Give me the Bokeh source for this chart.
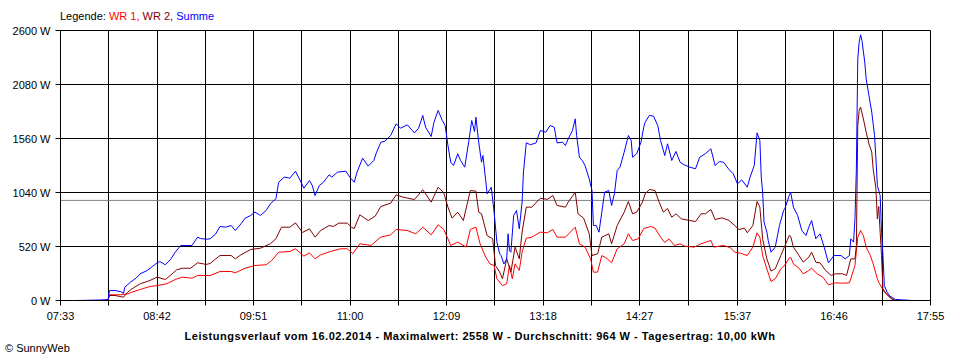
from bokeh.plotting import figure
from bokeh.models import Range1d, FixedTicker, Span, Div
from bokeh.layouts import column
from bokeh.embed import file_html
from bokeh.resources import INLINE

# ---------------- data ----------------
x_tick_labels = ["07:33", "08:42", "09:51", "11:00", "12:09", "13:18", "14:27", "15:37", "16:46", "17:55"]
y_ticks = [0, 520, 1040, 1560, 2080, 2600]
average_w = 964
series_names = ["WR 1", "WR 2", "Summe"]
series_colors = ["#FF0000", "#800000", "#0000FF"]
title_text = "Leistungsverlauf vom 16.02.2014 - Maximalwert: 2558 W - Durchschnitt: 964 W - Tagesertrag: 10,00 kWh"

sum_time = ["07:44","08:02","08:07","08:08","08:12","08:16","08:18","08:19","08:23","08:27","08:30","08:35","08:39","08:42","08:44","08:48","08:52","08:55","08:59","09:02","09:07","09:11","09:13","09:17","09:20","09:24","09:27","09:31","09:35","09:38","09:42","09:45","09:49","09:52","09:56","10:00","10:03","10:07","10:09","10:13","10:17","10:21","10:25","10:27","10:31","10:33","10:35","10:38","10:41","10:45","10:47","10:51","10:57","11:00","11:03","11:05","11:09","11:13","11:17","11:19","11:22","11:25","11:29","11:33","11:36","11:41","11:46","11:49","11:52","11:54","11:58","12:00","12:03","12:06","12:08","12:10","12:12","12:14","12:17","12:19","12:22","12:25","12:27","12:29","12:30","12:32","12:34","12:35","12:37","12:38","12:41","12:43","12:45","12:47","12:48","12:50","12:52","12:53","12:54","12:55","12:57","12:59","13:01","13:03","13:04","13:06","13:09","13:13","13:16","13:20","13:23","13:26","13:28","13:32","13:34","13:36","13:39","13:41","13:42","13:44","13:46","13:48","13:51","13:53","13:54","13:56","13:58","14:00","14:02","14:05","14:07","14:09","14:11","14:13","14:16","14:19","14:21","14:22","14:25","14:28","14:30","14:31","14:34","14:37","14:40","14:42","14:45","14:47","14:50","14:53","14:56","14:59","15:03","15:07","15:10","15:14","15:18","15:21","15:24","15:27","15:31","15:34","15:37","15:40","15:44","15:46","15:49","15:51","15:53","15:54","15:55","15:56","15:58","15:59","16:01","16:04","16:07","16:08","16:10","16:11","16:14","16:15","16:17","16:20","16:23","16:26","16:28","16:30","16:33","16:36","16:39","16:42","16:46","16:51","16:54","16:57","16:58","17:00","17:01","17:02","17:03","17:04","17:05","17:06","17:08","17:09","17:11","17:13","17:15","17:16","17:17","17:19","17:20","17:21","17:22","17:24","17:26","17:30","17:42"]
sum_w = [0,5,10,95,96,85,70,128,176,215,257,289,330,363,375,344,401,465,530,530,530,610,597,590,594,642,713,706,722,674,738,793,819,851,819,867,931,979,1139,1188,1178,1245,1139,1081,1156,1107,1011,1107,1139,1210,1188,1236,1245,1185,1139,1236,1371,1294,1348,1428,1524,1534,1589,1701,1659,1691,1614,1659,1782,1669,1579,1717,1830,1733,1685,1493,1332,1300,1413,1348,1284,1541,1733,1627,1765,1524,1332,1396,1156,1027,1091,851,562,449,433,353,400,642,480,465,819,867,690,947,1236,1518,1500,1518,1637,1621,1685,1669,1518,1524,1493,1557,1637,1749,1589,1380,1348,1300,1171,1059,722,722,658,851,1043,1059,915,1027,1252,1284,1428,1589,1541,1380,1413,1524,1669,1717,1782,1775,1685,1541,1396,1509,1348,1435,1332,1306,1284,1268,1380,1413,1461,1300,1338,1332,1261,1220,1123,1162,1091,1188,1300,1614,1541,1188,1043,754,658,578,465,514,722,770,867,889,1011,1043,899,819,674,626,706,770,594,642,514,363,433,433,401,433,594,562,786,1268,2327,2487,2558,2504,2295,2135,1974,1813,1589,1364,1107,1011,658,433,144,80,41,10,0]

wr2_time = ["07:44","08:07","08:08","08:12","08:18","08:21","08:24","08:30","08:37","08:42","08:48","08:52","08:56","09:00","09:06","09:11","09:15","09:17","09:20","09:24","09:27","09:35","09:38","09:42","09:49","09:56","10:03","10:07","10:11","10:17","10:21","10:26","10:31","10:35","10:39","10:45","10:48","10:52","10:58","11:01","11:03","11:07","11:13","11:18","11:22","11:29","11:33","11:38","11:46","11:52","11:58","12:03","12:07","12:10","12:13","12:17","12:21","12:26","12:30","12:32","12:34","12:38","12:42","12:44","12:47","12:49","12:52","12:55","12:58","13:01","13:03","13:06","13:10","13:16","13:21","13:25","13:28","13:34","13:36","13:41","13:43","13:47","13:51","13:53","13:57","14:00","14:05","14:07","14:11","14:16","14:19","14:22","14:25","14:29","14:31","14:34","14:38","14:41","14:44","14:47","14:50","14:53","14:57","15:03","15:07","15:11","15:14","15:18","15:21","15:26","15:31","15:35","15:38","15:42","15:44","15:48","15:51","15:53","15:55","15:58","16:01","16:04","16:08","16:11","16:14","16:15","16:17","16:21","16:24","16:28","16:30","16:33","16:36","16:40","16:44","16:47","16:52","16:55","16:58","17:01","17:02","17:03","17:04","17:05","17:07","17:09","17:11","17:13","17:14","17:16","17:17","17:18","17:19","17:20","17:21","17:24","17:27","17:30"]
wr2_w = [0,0,48,48,32,80,112,161,193,225,202,247,295,311,311,363,353,347,356,401,433,433,401,440,491,504,546,594,706,706,748,655,690,610,674,722,713,745,745,706,693,825,770,812,905,937,1017,995,972,1066,947,1091,1037,899,793,851,770,1059,1053,851,835,626,594,337,273,209,401,273,514,401,658,899,899,985,974,1011,915,899,947,1043,835,793,642,433,449,610,642,546,722,851,953,835,851,947,1027,1069,1059,947,851,886,802,835,786,770,760,835,835,876,780,796,770,722,684,697,652,722,953,899,594,401,283,305,433,530,626,619,514,433,369,417,465,369,363,289,241,257,257,241,401,401,530,1685,1830,1862,1749,1621,1509,1428,1268,1075,786,905,658,433,112,55,16,0]

wr1_time = ["07:44","08:07","08:08","08:16","08:21","08:24","08:30","08:37","08:42","08:49","08:55","09:00","09:07","09:11","09:20","09:27","09:35","09:38","09:45","09:52","10:00","10:04","10:09","10:17","10:21","10:27","10:31","10:35","10:39","10:46","10:53","10:58","11:02","11:07","11:15","11:22","11:29","11:33","11:41","11:47","11:52","11:58","12:03","12:07","12:10","12:12","12:17","12:23","12:26","12:30","12:33","12:37","12:40","12:43","12:45","12:47","12:49","12:52","12:54","12:56","12:58","13:01","13:03","13:06","13:10","13:16","13:21","13:25","13:28","13:34","13:41","13:44","13:48","13:52","13:54","13:57","14:00","14:04","14:07","14:11","14:16","14:19","14:22","14:26","14:30","14:35","14:38","14:42","14:45","14:48","14:52","14:56","14:59","15:06","15:11","15:18","15:20","15:27","15:32","15:35","15:39","15:44","15:48","15:51","15:53","15:55","15:58","16:01","16:04","16:08","16:11","16:14","16:15","16:17","16:21","16:24","16:28","16:30","16:34","16:38","16:42","16:47","16:52","16:57","16:58","17:01","17:03","17:05","17:07","17:09","17:12","17:14","17:17","17:18","17:20","17:22","17:25","17:29"]
wr1_w = [0,0,55,55,64,80,106,135,144,161,202,225,215,241,241,279,279,267,311,337,344,385,465,472,498,427,459,401,440,472,498,498,452,546,530,610,632,684,674,642,706,632,729,684,594,530,562,514,684,706,546,417,353,337,209,176,144,161,337,209,353,289,465,600,610,658,652,684,610,610,706,546,514,401,273,273,433,401,363,498,546,642,578,594,693,713,697,610,559,594,530,546,524,514,546,578,514,530,508,465,456,433,514,652,610,433,305,183,209,305,344,408,417,353,311,257,289,311,257,225,151,170,167,170,209,337,610,674,626,514,433,353,209,176,128,80,48,0]


def to_min(s):
    parts = [int(v) for v in s.split(":")]
    return parts[0] * 60 + parts[1] + (parts[2] / 60 if len(parts) > 2 else 0)


FONT = "Liberation Sans"

x_major = [to_min(s) for s in x_tick_labels]
x_minor = [(a + b) / 2 for a, b in zip(x_major[:-1], x_major[1:])]

p = figure(width=960, height=303, output_backend="svg", toolbar_location=None,
           x_range=Range1d(x_major[0], x_major[-1]), y_range=Range1d(y_ticks[0], y_ticks[-1]),
           min_border_left=60, min_border_right=30, min_border_top=8, min_border_bottom=25,
           background_fill_color="white", border_fill_color="white", margin=0)
p.outline_line_color = "black"
p.outline_line_width = 1

# axes
p.xaxis.ticker = FixedTicker(ticks=x_major, minor_ticks=x_minor)
p.xaxis.major_label_overrides = {m: s for m, s in zip(x_major, x_tick_labels)}
p.yaxis.ticker = FixedTicker(ticks=y_ticks)
p.yaxis.major_label_overrides = {v: f"{v} W" for v in y_ticks}
for ax in (p.xaxis[0], p.yaxis[0]):
    ax.axis_line_color = "black"
    ax.major_tick_line_color = "black"
    ax.major_tick_in = 0
    ax.major_tick_out = 5
    ax.major_label_text_font = FONT
    ax.major_label_text_font_size = "11px"
    ax.major_label_text_color = "black"
    ax.major_label_standoff = 5
p.xaxis.minor_tick_line_color = "black"
p.xaxis.minor_tick_in = 0
p.xaxis.minor_tick_out = 5
p.xaxis.major_label_standoff = 4
p.yaxis.minor_tick_line_color = None

p.xgrid.grid_line_color = "black"
p.xgrid.minor_grid_line_color = "black"
p.ygrid.grid_line_color = "black"

p.add_layout(Span(location=average_w, dimension="width", line_color="#808080", line_width=1, level="underlay"))

# series
for t, w, c in ((wr1_time, wr1_w, series_colors[0]),
                (wr2_time, wr2_w, series_colors[1]),
                (sum_time, sum_w, series_colors[2])):
    p.line([to_min(s) for s in t], w, line_color=c, line_width=1)

# texts around the plot
base = f"font-family:'{FONT}';font-size:11px;line-height:13px;color:black;white-space:nowrap;"
parts = []
for i, (n, c) in enumerate(zip(series_names, series_colors)):
    sep = "," if i < len(series_names) - 1 else ""
    parts.append(f'<span style="color:{c}">{n}{sep}</span>')
legend_html = (f'<div style="position:relative;width:960px;height:22px;{base}">'
               f'<span style="position:absolute;left:60px;top:10px;">Legende: ' + " ".join(parts) + '</span></div>')
footer_html = (f'<div style="position:relative;width:960px;height:35px;{base}">'
               f'<div style="position:absolute;left:0;top:5px;width:960px;text-align:center;'
               f'font-weight:bold;letter-spacing:0.5px;">{title_text}</div>'
               f'<div style="position:absolute;left:5px;top:17px;">&copy; SunnyWeb</div></div>')

top = Div(text=legend_html, width=960, height=22, margin=0)
bottom = Div(text=footer_html, width=960, height=35, margin=0)

layout = column(top, p, bottom, spacing=0)
open("out.html", "w").write(file_html(layout, INLINE))
